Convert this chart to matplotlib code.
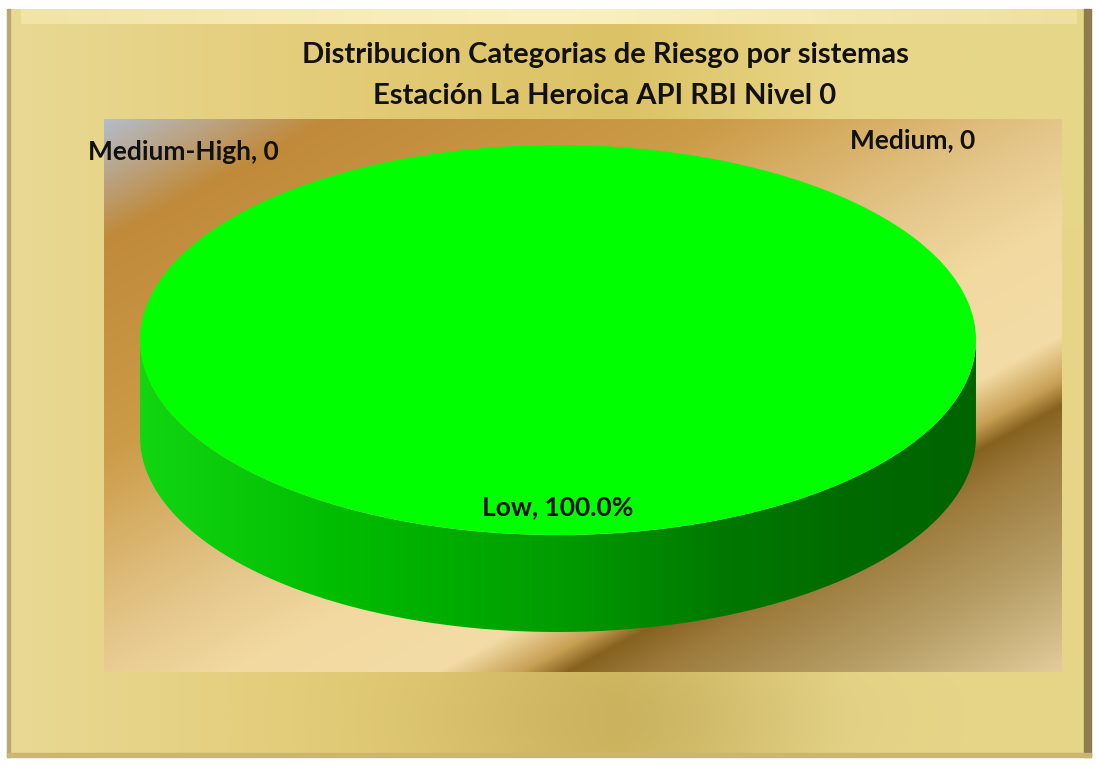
import numpy as np
import matplotlib.pyplot as plt
from matplotlib.colors import to_rgb
from matplotlib.patches import PathPatch, Rectangle
from matplotlib.path import Path

# data
categories = ['Medium-High', 'Medium', 'Low']
values = [0, 0, 100]
title_lines = ['Distribucion Categorias de Riesgo por sistemas',
               'Estación La Heroica API RBI Nivel 0']

W, H = 1098, 766
FONT = ['Lato', 'DejaVu Sans']


def ramp(t, stops, colors):
    rgb = [to_rgb(c) for c in colors]
    return np.stack([np.interp(t, stops, [c[i] for c in rgb]) for i in range(3)], -1)


fig = plt.figure(figsize=(W / 100, H / 100), dpi=100)
fig.patch.set_facecolor('white')

bg = fig.add_axes([0, 0, 1, 1])
bg.set_xlim(0, W)
bg.set_ylim(H, 0)
bg.axis('off')

# outer gold frame
fx0, fx1, fy0, fy1 = 7, 1091, 9, 757
xx, yy = np.meshgrid(np.linspace(fx0, fx1, 400), np.linspace(fy0, fy1, 300))
frame = ramp(xx, [7, 300, 620, 850, 1091],
             ['#e9d994', '#e4cd7a', '#dcc266', '#e8d688', '#e6d688'])
shade = np.exp(-((xx - 630) ** 2 / 200 ** 2 + (yy - 720) ** 2 / 90 ** 2))
frame = frame * (1 - 0.08 * shade[..., None])
bg.imshow(frame, extent=[fx0, fx1, fy1, fy0], aspect='auto', zorder=0)
# bevel
top = ramp(np.linspace(0, 1, 300), [0, 0.5, 1], ['#f2e4a6', '#fbf0c0', '#efe0a0'])
bg.imshow(top[None, :, :], extent=[fx0 + 14, fx1 - 14, 24, fy0], aspect='auto', zorder=1)
bg.add_patch(Rectangle((fx1 - 7, fy0), 7, fy1 - fy0, color='#8c7c4e', zorder=1))
bg.add_patch(Rectangle((fx0, fy0), 3, fy1 - fy0, color='#b8a870', zorder=1))
bg.add_patch(Rectangle((fx0, fy1 - 4), fx1 - fx0, 4, color='#c9b574', zorder=1))

# plot area with metallic gradient
px0, px1, py0, py1 = 104, 1062, 119, 672
xx, yy = np.meshgrid(np.linspace(px0, px1, 500), np.linspace(py0, py1, 300))
s = 0.475 * xx + 0.881 * yy
area = ramp(s, [155, 260, 450, 612, 700, 800, 840, 862, 900, 1000, 1098],
            ['#b4bccb', '#c08a3a', '#cc9c48', '#e4c68a', '#f2d9a0', '#f3dca6',
             '#c8a055', '#86621e', '#9c7a3c', '#b8a068', '#e4cc9c'])
bg.imshow(area, extent=[px0, px1, py1, py0], aspect='auto', zorder=2)

# pie (3D look: side band + top face)
depth = 97 / 195
ax = fig.add_axes([140 / W, (H - 632) / H, (976 - 140) / W, (632 - 145) / H])
ax.axis('off')

t = np.linspace(np.pi, 2 * np.pi, 200)
verts = np.concatenate([np.c_[np.cos(t), np.sin(t)],
                        np.c_[np.cos(t[::-1]), np.sin(t[::-1]) - depth]])
clip = PathPatch(Path(verts), facecolor='none', edgecolor='none')
ax.add_patch(clip)
side = ramp(np.linspace(-1, 1, 400), [-1, -0.5, 0, 0.4, 0.7, 1],
            ['#12d612', '#00bb00', '#009c00', '#007800', '#006a00', '#006400'])
im = ax.imshow(side[None, :, :], extent=[-1, 1, -1 - depth, 0], aspect='auto', zorder=1)
im.set_clip_path(clip)

wedges, _ = ax.pie(values, colors=['#ff0000', '#ffc000', '#00ff00'],
                   startangle=90, wedgeprops={'linewidth': 0})
for w in wedges:
    w.set_zorder(2)
ax.set_aspect('auto')
ax.set_xlim(-1, 1)
ax.set_ylim(-1 - depth, 1)

total = sum(values)
label_pos = [(-1.124, 0.964, 'left'), (0.849, 1.026, 'center'), (0.0, -0.856, 'center')]
for cat, val, (lx, ly, ha) in zip(categories, values, label_pos):
    txt = f'{cat}, {val / total * 100:.1f}%' if val else f'{cat}, {val}'
    ax.text(lx, ly, txt, ha=ha, va='center', fontsize=19, fontweight='bold',
            family=FONT, color='#111111', zorder=5, clip_on=False)

bg.text(605, 55, title_lines[0], ha='center', va='center', fontsize=21,
        fontweight='bold', family=FONT, color='#111111', zorder=5)
bg.text(605, 96, title_lines[1], ha='center', va='center', fontsize=21,
        fontweight='bold', family=FONT, color='#111111', zorder=5)

fig.savefig('out.png', dpi=100)
